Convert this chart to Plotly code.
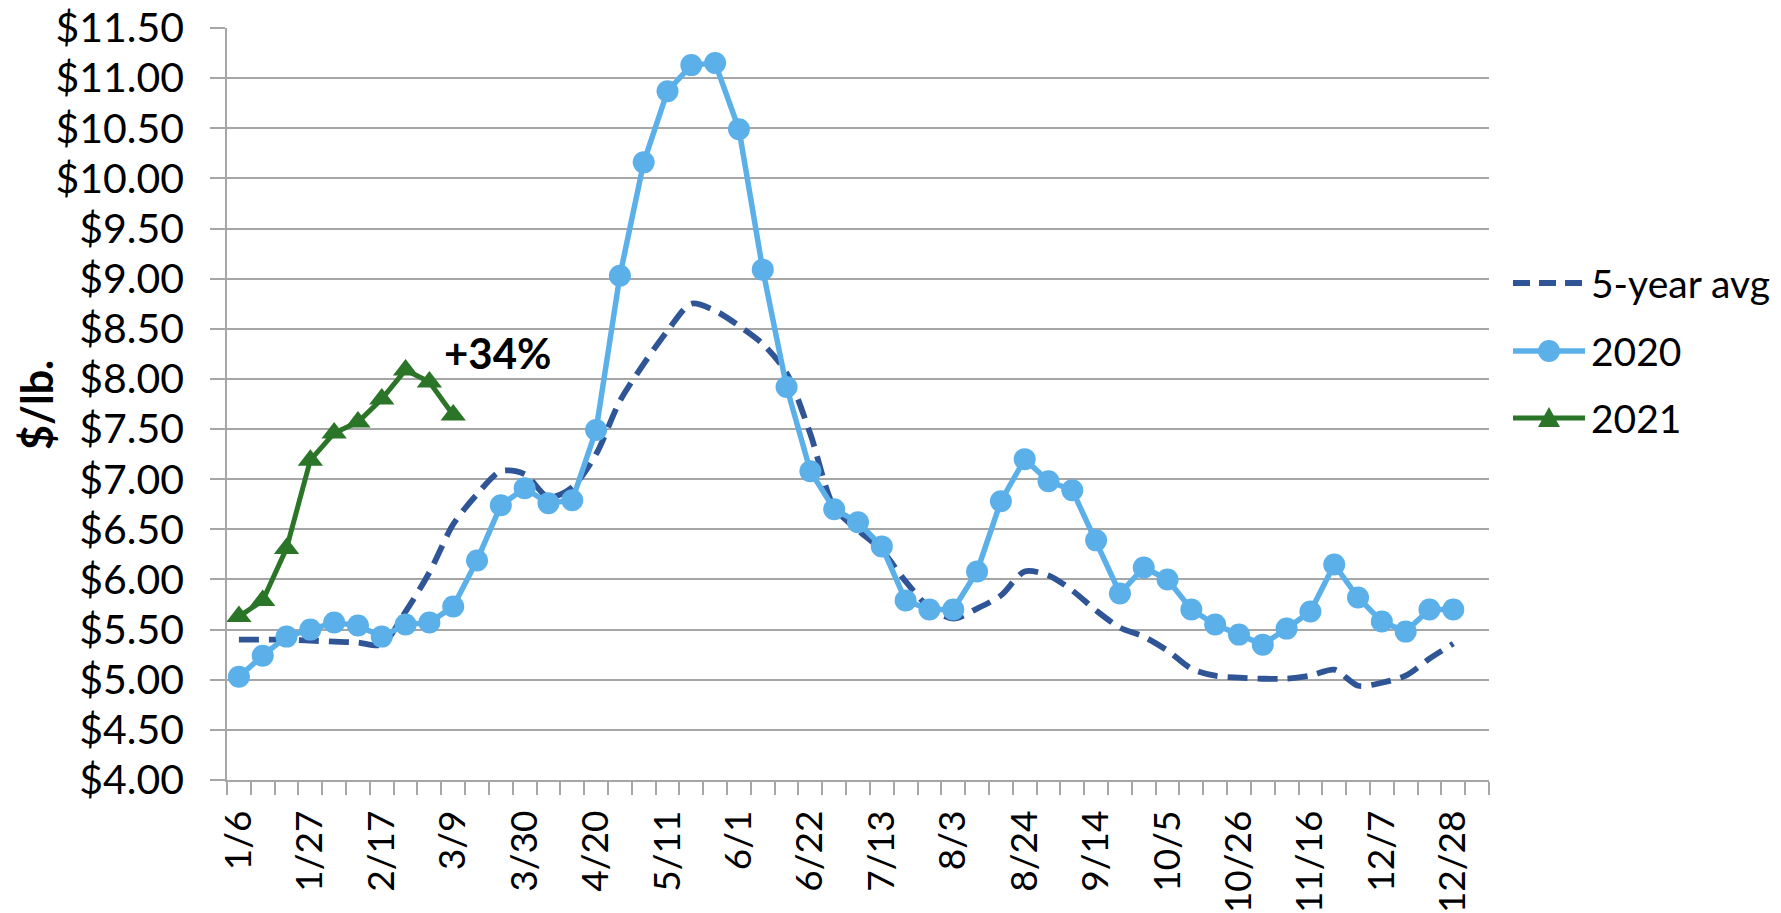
import plotly.graph_objects as go

# Weekly categories (Monday dates)
weeks = ["1/6", "1/13", "1/20", "1/27", "2/3", "2/10", "2/17", "2/24", "3/2", "3/9",
         "3/16", "3/23", "3/30", "4/6", "4/13", "4/20", "4/27", "5/4", "5/11", "5/18",
         "5/25", "6/1", "6/8", "6/15", "6/22", "6/29", "7/6", "7/13", "7/20", "7/27",
         "8/3", "8/10", "8/17", "8/24", "8/31", "9/7", "9/14", "9/21", "9/28", "10/5",
         "10/12", "10/19", "10/26", "11/2", "11/9", "11/16", "11/23", "11/30", "12/7",
         "12/14", "12/21", "12/28"]

avg_5yr = [5.40, 5.40, 5.40, 5.39, 5.38, 5.37, 5.35, 5.68, 6.07, 6.55,
           6.85, 7.08, 7.05, 6.82, 6.92, 7.25, 7.78, 8.15, 8.48, 8.75,
           8.68, 8.53, 8.35, 8.06, 7.45, 6.72, 6.49, 6.29, 5.98, 5.72,
           5.61, 5.71, 5.84, 6.08, 6.04, 5.89, 5.69, 5.52, 5.43, 5.29,
           5.11, 5.04, 5.02, 5.01, 5.01, 5.04, 5.10, 4.94, 4.97, 5.04,
           5.21, 5.36]

price_2020 = [5.03, 5.24, 5.43, 5.50, 5.57, 5.54, 5.43, 5.55, 5.57, 5.73,
              6.19, 6.74, 6.91, 6.76, 6.79, 7.49, 9.03, 10.16, 10.87, 11.13,
              11.15, 10.49, 9.09, 7.92, 7.08, 6.70, 6.57, 6.33, 5.79, 5.70,
              5.70, 6.08, 6.78, 7.20, 6.98, 6.89, 6.39, 5.86, 6.12, 6.00,
              5.70, 5.55, 5.45, 5.35, 5.51, 5.68, 6.15, 5.82, 5.58, 5.48,
              5.70, 5.70]

price_2021 = [5.63, 5.79, 6.31, 7.19, 7.46, 7.57, 7.80, 8.09, 7.97, 7.64]

series_names = ["5-year avg", "2020", "2021"]
label_step = 3
change_label = "+34%"

FONT = "Lato"
GRID = "#A6A6A6"
C_AVG = "#2F5597"
C_2020 = "#5BB0EA"
C_2021 = "#2A7528"

W, H = 1781, 913
ML, MR, MT, MB = 227, 292, 28, 133
PW, PH = W - ML - MR, H - MT - MB


def px_x(px):
    return (px - ML) / PW


def px_y(py):
    return (H - MB - py) / PH


idx = list(range(len(weeks)))
n_slots = len(weeks) + 1  # one trailing empty slot on the category axis

fig = go.Figure()

fig.add_trace(go.Scatter(
    x=idx, y=avg_5yr, name=series_names[0], mode="lines",
    line=dict(color=C_AVG, width=5.8, dash="20px,10px", shape="spline", smoothing=0.8),
))
fig.add_trace(go.Scatter(
    x=idx, y=price_2020, name=series_names[1], mode="lines+markers",
    line=dict(color=C_2020, width=5.5),
    marker=dict(symbol="circle", size=22, color=C_2020),
))
fig.add_trace(go.Scatter(
    x=idx[:len(price_2021)], y=price_2021, name=series_names[2], mode="lines+markers",
    line=dict(color=C_2021, width=5),
    marker=dict(symbol="triangle-up", size=22, color=C_2021),
))

fig.add_annotation(
    x=10.9, y=8.26, xref="x", yref="y", text=f"<b>{change_label}</b>",
    showarrow=False, font=dict(family=FONT, size=42, color="black"),
)

fig.add_annotation(
    x=px_x(36), y=px_y(405), xref="paper", yref="paper", text="<b>$/lb.</b>",
    xanchor="center", yanchor="middle",
    textangle=-90, showarrow=False, font=dict(family=FONT, size=43, color="black"),
)

# Legend drawn at the right of the plot
shapes = []
rows_y = [283, 351, 418]
lx0, lx1 = 1513, 1585
lcx = (lx0 + lx1) / 2
leg_styles = [
    dict(color=C_AVG, width=5.8, dash="17px,9px"),
    dict(color=C_2020, width=5.5),
    dict(color=C_2021, width=5),
]
for name, ry, st in zip(series_names, rows_y, leg_styles):
    shapes.append(dict(
        type="line", xref="paper", yref="paper",
        x0=px_x(lx0), x1=px_x(lx1), y0=px_y(ry), y1=px_y(ry),
        line=st,
    ))
    fig.add_annotation(
        x=px_x(1589), y=px_y(ry), xref="paper", yref="paper", text=name,
        xanchor="left", yanchor="middle", showarrow=False,
        font=dict(family=FONT, size=39, color="black"),
    )
shapes.append(dict(
    type="circle", xref="paper", yref="paper",
    xsizemode="pixel", ysizemode="pixel",
    xanchor=px_x(lcx), yanchor=px_y(rows_y[1]),
    x0=-11, x1=11, y0=-11, y1=11,
    fillcolor=C_2020, line=dict(width=0),
))
shapes.append(dict(
    type="path", xref="paper", yref="paper",
    xsizemode="pixel", ysizemode="pixel",
    xanchor=px_x(lcx), yanchor=px_y(rows_y[2]),
    path="M-11,-9 L11,-9 L0,11 Z",
    fillcolor=C_2021, line=dict(width=0),
))

fig.update_layout(
    width=W, height=H,
    margin=dict(l=ML, r=MR, t=MT, b=MB),
    paper_bgcolor="white", plot_bgcolor="white",
    font=dict(family=FONT, size=38, color="black"),
    showlegend=False,
    shapes=shapes,
    xaxis=dict(
        range=[-0.5, n_slots - 0.5],
        automargin=False,
        tickmode="array",
        tickvals=idx[::label_step],
        ticktext=weeks[::label_step],
        tickangle=-90,
        ticks="",
        ticklabelstandoff=14,
        showgrid=False, zeroline=False,
        showline=True, linecolor=GRID, linewidth=1.5,
        minor=dict(
            tickmode="array",
            tickvals=[k - 0.5 for k in range(n_slots + 1)],
            ticks="outside", ticklen=13, tickcolor=GRID, tickwidth=1.5,
            showgrid=False,
        ),
        tickfont=dict(family=FONT, size=37, color="black"),
    ),
    yaxis=dict(
        range=[4, 11.5], dtick=0.5, tick0=4,
        automargin=False,
        tickformat="$.2f",
        showgrid=True, gridcolor=GRID, gridwidth=1.5,
        zeroline=False,
        showline=True, linecolor=GRID, linewidth=1.5,
        ticks="outside", ticklen=15, tickcolor=GRID, tickwidth=1.5,
        ticklabelstandoff=18,
        tickfont=dict(family=FONT, size=41, color="black"),
    ),
)

fig.write_html("out.html")
